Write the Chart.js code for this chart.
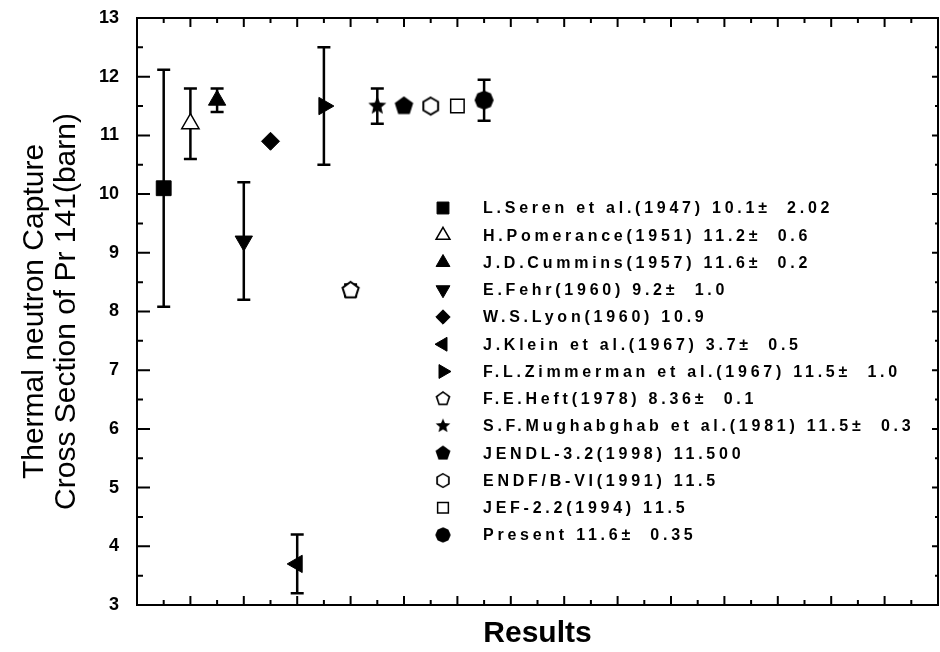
<!DOCTYPE html>
<html>
<head>
<meta charset="utf-8">
<script src="https://cdn.jsdelivr.net/npm/chart.js"></script>
<style>
  html, body { margin: 0; padding: 0; background: #fff; }
  #wrap { width: 940px; height: 652px; position: relative; }
</style>
</head>
<body>
<div id="wrap"><canvas id="myChart"></canvas></div>
<script>
const studies = [
    'L.Seren et al.(1947) 10.1±  2.02',
    'H.Pomerance(1951) 11.2±  0.6',
    'J.D.Cummins(1957) 11.6±  0.2',
    'E.Fehr(1960) 9.2±  1.0',
    'W.S.Lyon(1960) 10.9',
    'J.Klein et al.(1967) 3.7±  0.5',
    'F.L.Zimmerman et al.(1967) 11.5±  1.0',
    'F.E.Heft(1978) 8.36±  0.1',
    'S.F.Mughabghab et al.(1981) 11.5±  0.3',
    'JENDL-3.2(1998) 11.500',
    'ENDF/B-VI(1991) 11.5',
    'JEF-2.2(1994) 11.5',
    'Present 11.6±  0.35'
]
const position = [1, 2, 3, 4, 5, 6, 7, 8, 9, 10, 11, 12, 13]
const crossSection = [10.1, 11.2, 11.6, 9.2, 10.9, 3.7, 11.5, 8.36, 11.5, 11.5, 11.5, 11.5, 11.6]
const uncertainty = [2.02, 0.6, 0.2, 1.0, 0, 0.5, 1.0, 0.1, 0.3, 0, 0, 0, 0.35]
const yTicks = [3, 4, 5, 6, 7, 8, 9, 10, 11, 12, 13]

const fontFamily = '"Liberation Sans", Arial, sans-serif'

// small canvases for the markers chart.js has no style for
function polyMarker(sides, filled, r) {
    let c = document.createElement('canvas')
    let s = Math.ceil(r * 2 + 4)
    c.width = s
    c.height = s
    let g = c.getContext('2d')
    g.beginPath()
    for (let k = 0; k < sides; k++) {
        let a = -Math.PI / 2 + k * 2 * Math.PI / sides
        let px = s / 2 + Math.cos(a) * r
        let py = s / 2 + Math.sin(a) * r
        k == 0 ? g.moveTo(px, py) : g.lineTo(px, py)
    }
    g.closePath()
    g.fillStyle = filled ? '#000' : '#fff'
    g.fill()
    g.strokeStyle = '#000'
    g.lineWidth = 2
    g.stroke()
    return c
}

function starMarker(r) {
    let c = document.createElement('canvas')
    let s = Math.ceil(r * 2 + 4)
    c.width = s
    c.height = s
    let g = c.getContext('2d')
    g.beginPath()
    for (let k = 0; k < 10; k++) {
        let a = -Math.PI / 2 + k * Math.PI / 5
        let rr = k % 2 == 0 ? r : r * 0.45
        let px = s / 2 + Math.cos(a) * rr
        let py = s / 2 + Math.sin(a) * rr
        k == 0 ? g.moveTo(px, py) : g.lineTo(px, py)
    }
    g.closePath()
    g.fillStyle = '#000'
    g.fill()
    return c
}

const markers = [
    { style: 'rect', radius: 10.5, fill: true },
    { style: 'triangle', radius: 10, fill: false },
    { style: 'triangle', radius: 10, fill: true },
    { style: 'triangle', radius: 10, fill: true, rotation: 180 },
    { style: 'rectRot', radius: 9, fill: true },
    { style: 'triangle', radius: 10, fill: true, rotation: 270 },
    { style: 'triangle', radius: 10, fill: true, rotation: 90 },
    { style: polyMarker(5, false, 8.5), radius: 8 },
    { style: starMarker(9.5), radius: 9 },
    { style: polyMarker(5, true, 8.5), radius: 8 },
    { style: polyMarker(6, false, 8.5), radius: 8 },
    { style: 'rect', radius: 9.5, fill: false },
    { style: polyMarker(8, true, 8.5), radius: 8 }
]

function drawMarker(ctx, m, x, y, scale) {
    if (typeof m.style != 'string') {
        let w = m.style.width * scale
        let h = m.style.height * scale
        ctx.drawImage(m.style, x - w / 2, y - h / 2, w, h)
        return
    }
    ctx.save()
    ctx.fillStyle = m.fill ? '#000' : '#fff'
    ctx.strokeStyle = '#000'
    ctx.lineWidth = m.fill ? 1 : 1.5
    Chart.helpers.drawPoint(ctx, {
        pointStyle: m.style,
        radius: m.radius * scale,
        rotation: m.rotation || 0,
        borderWidth: ctx.lineWidth
    }, x, y)
    ctx.restore()
}

// box around the plot with inward ticks
const frameTicks = {
    id: 'frameTicks',
    beforeDatasetsDraw(chart) {
        const { ctx, chartArea: a, scales: { x, y } } = chart
        ctx.save()
        ctx.strokeStyle = '#000'
        ctx.lineWidth = 2
        ctx.strokeRect(a.left, a.top, a.right - a.left, a.bottom - a.top)
        ctx.beginPath()
        for (let v = yTicks[0]; v <= yTicks[yTicks.length - 1]; v += 0.5) {
            let py = y.getPixelForValue(v)
            let major = v % 1 == 0
            ctx.moveTo(a.left, py)
            ctx.lineTo(a.left + (major ? 13 : 6), py)
            ctx.moveTo(a.right, py)
            ctx.lineTo(a.right - (major ? 6 : 3), py)
        }
        for (let v = 1; v < 30; v++) {
            let px = x.getPixelForValue(v)
            let len = v % 2 == 0 ? 9 : 5
            ctx.moveTo(px, a.bottom)
            ctx.lineTo(px, a.bottom - len)
            ctx.moveTo(px, a.top)
            ctx.lineTo(px, a.top + len)
        }
        ctx.stroke()
        ctx.restore()
    }
}

const errorBars = {
    id: 'errorBars',
    beforeDatasetsDraw(chart) {
        const { ctx, scales: { x, y } } = chart
        ctx.save()
        ctx.strokeStyle = '#000'
        ctx.lineWidth = 2.5
        crossSection.forEach((v, i) => {
            let e = uncertainty[i]
            if (!e) return
            let px = x.getPixelForValue(position[i])
            let top = y.getPixelForValue(v + e)
            let bot = y.getPixelForValue(v - e)
            ctx.beginPath()
            ctx.moveTo(px, top)
            ctx.lineTo(px, bot)
            ctx.moveTo(px - 6.5, top)
            ctx.lineTo(px + 6.5, top)
            ctx.moveTo(px - 6.5, bot)
            ctx.lineTo(px + 6.5, bot)
            ctx.stroke()
        })
        ctx.restore()
    }
}

// legend sits inside the plot
const legendBox = {
    id: 'legendBox',
    afterDraw(chart) {
        const { ctx, chartArea: a } = chart
        ctx.save()
        ctx.font = 'bold 16px ' + fontFamily
        ctx.letterSpacing = '3.75px'
        ctx.textBaseline = 'middle'
        ctx.fillStyle = '#000'
        studies.forEach((label, i) => {
            let rowY = a.top + 190 + i * 27.25
            drawMarker(ctx, markers[i], a.left + 306, rowY, 0.8)
            ctx.fillStyle = '#000'
            ctx.fillText(label, a.left + 346, rowY + 1)
        })
        ctx.restore()
    }
}

const ctx = document.getElementById('myChart')

new Chart(ctx, {
    type: 'scatter',
    data: {
        datasets: studies.map((label, i) => ({
            label: label,
            data: [{ x: position[i], y: crossSection[i] }],
            pointStyle: markers[i].style,
            pointRadius: markers[i].radius,
            pointHoverRadius: markers[i].radius,
            rotation: markers[i].rotation || 0,
            backgroundColor: markers[i].fill === false ? '#fff' : '#000',
            borderColor: '#000',
            borderWidth: markers[i].fill === false ? 1.5 : 1
        }))
    },
    options: {
        responsive: true,
        maintainAspectRatio: false,
        animation: false,
        layout: { autoPadding: false, padding: { top: 18, right: 2, left: 0, bottom: 0 } },
        plugins: {
            legend: { display: false },
            tooltip: { enabled: false }
        },
        scales: {
            x: {
                type: 'linear',
                min: 0,
                max: 30,
                grid: { display: false, drawTicks: false },
                border: { display: false },
                ticks: { display: false },
                title: {
                    display: true,
                    text: 'Results',
                    color: '#000',
                    font: { family: fontFamily, size: 30, weight: 'bold', lineHeight: 1.2 },
                    padding: 0
                },
                afterFit: (s) => {
                    s.height = 47
                    s.paddingLeft = 0
                    s.paddingRight = 0
                }
            },
            y: {
                min: 3,
                max: 13,
                grid: { display: false, drawTicks: false },
                border: { display: false },
                afterBuildTicks: (axis) => { axis.ticks = yTicks.map(v => ({ value: v })) },
                ticks: {
                    color: '#000',
                    padding: 18,
                    font: { family: fontFamily, size: 18, weight: 'bold' }
                },
                title: {
                    display: true,
                    text: ['Thermal neutron Capture', 'Cross Section of Pr 141(barn)'],
                    color: '#000',
                    font: { family: fontFamily, size: 30, lineHeight: 1.07 },
                    padding: { top: 19, bottom: 0 }
                },
                afterFit: (s) => {
                    s.width = 137
                    s.paddingTop = 10
                    s.paddingBottom = 10
                }
            }
        }
    },
    plugins: [frameTicks, errorBars, legendBox]
});
</script>
</body>
</html>
